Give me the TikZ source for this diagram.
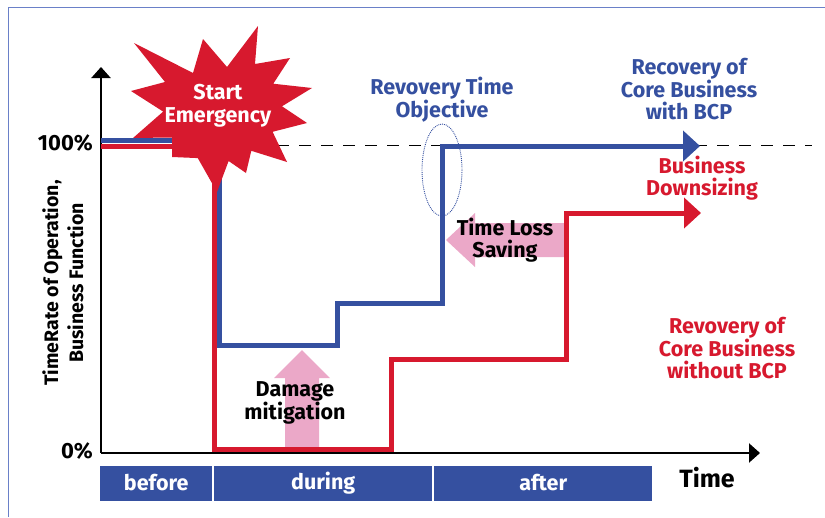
\documentclass[tikz,border=0pt]{standalone}
\usepackage{fontspec}
\setmainfont{Fira Sans}
\usetikzlibrary{arrows.meta}
\definecolor{bblue}{HTML}{3550A0}
\definecolor{rred}{HTML}{D7192E}
\definecolor{ppink}{HTML}{EBA8C8}
\definecolor{frameblue}{HTML}{6A80C8}
\begin{document}
\begin{tikzpicture}[x=1pt,y=-1pt,
  lbl/.style={font=\bfseries\fontsize{21.5}{21.5}\selectfont, align=center, inner sep=0pt},
  axisline/.style={line width=2.2pt, -{Triangle[length=11pt,width=19pt]}},
  curve/.style={line width=5pt, line join=miter, -{Triangle[length=17pt,width=30pt]}},
  phase/.style={fill=bblue, text=white, minimum height=35pt, inner sep=0pt,
    font=\bfseries\fontsize{21.5}{21.5}\selectfont, anchor=west},
  pinkarrow/.style={fill=ppink, draw=none}]
\useasboundingbox (0,0) rectangle (825,517);
% frame
\draw[frameblue, line width=1pt] (8,517) -- (8,7) -- (830,7);
% axes
\coordinate (o) at (101,453);
\coordinate (ytop) at (101,67);
\coordinate (xend) at (760,453);
\draw[axisline] (o) -- (ytop);
\draw[axisline] (o) -- (xend);
% dashed 100% line
\coordinate (d0) at (101,145);
\coordinate (d1) at (812,145);
\draw[dashed, dash pattern=on 12pt off 10pt, line width=1pt] (d0) -- (d1);
% pink arrows
\draw[pinkarrow] (302,350) -- (330,378) -- (319,378) -- (319,449) -- (285,449) -- (285,378) -- (274,378) -- cycle;
\draw[pinkarrow] (446,240) -- (475,213) -- (475,223) -- (564,223) -- (564,257) -- (475,257) -- (475,267) -- cycle;
% red curve
\coordinate (r0) at (101,146);
\coordinate (rend) at (701,213);
\draw[curve, rred] (r0) -- (214,146) -- (214,449) -- (391,449) -- (391,359) -- (566,359) -- (566,213) -- (rend);
% blue curve
\coordinate (b0) at (101,140);
\coordinate (bend) at (700,146);
\draw[curve, bblue] (b0) -- (219,140) -- (219,345) -- (337,345) -- (337,303) -- (442,303) -- (442,146) -- (bend);
% RTO ellipse
\draw[bblue, densely dotted, line width=0.9pt] (442,170) ellipse [x radius=20, y radius=46];
% star
\fill[rred] (134,43) -- (193,73) -- (203,39) -- (227,67) -- (258,26) -- (255,64) -- (290,58) -- (273.3,83.7) -- (312,88) -- (282,106.3) -- (307,123) -- (272.6,131.8) -- (287,162) -- (251.3,150.8) -- (246,173) -- (228.6,161) -- (217,192) -- (197.8,158.1) -- (172,157) -- (172.2,137.5) -- (133,138) -- (163.2,111.6) -- (131,91) -- (165,82) -- cycle;
\node[lbl, text=white, font=\bfseries\fontsize{21.5}{23}\selectfont] (start) at (218,106) {Start\\Emergency};
% labels
\node[lbl, text=bblue] (rto) at (442,100) {Revovery Time\\Objective};
\node[lbl, text=bblue] (withbcp) at (689,89) {Recovery of\\Core Business\\with BCP};
\node[lbl, text=rred] (down) at (702,178) {Business\\Downsizing};
\node[lbl, text=rred] (without) at (727,348) {Revovery of\\Core Business\\without BCP};
\node[lbl] (tls) at (505,240) {Time Loss\\Saving};
\node[lbl] (dm) at (295,403) {Damage\\mitigation};
% axis labels
\node[lbl, anchor=east, font=\bfseries\fontsize{22}{22}\selectfont] (p100) at (93,143) {100\%};
\node[lbl, anchor=east, font=\bfseries\fontsize{22}{22}\selectfont] (p0) at (93,451) {0\%};
\node[lbl, rotate=90, font=\bfseries\fontsize{19.5}{25}\selectfont] (ylab) at (63,283) {TimeRate of Operation,\\Business Function};
\node[lbl, font=\bfseries\fontsize{25}{25}\selectfont] (time) at (707,478) {Time};
% phases
\node[phase, minimum width=112pt] (before) at (100,483) {before};
\node[phase, minimum width=218pt] (during) at (214,483) {during};
\node[phase, minimum width=218pt] (after) at (434,483) {after};
\end{tikzpicture}
\end{document}
